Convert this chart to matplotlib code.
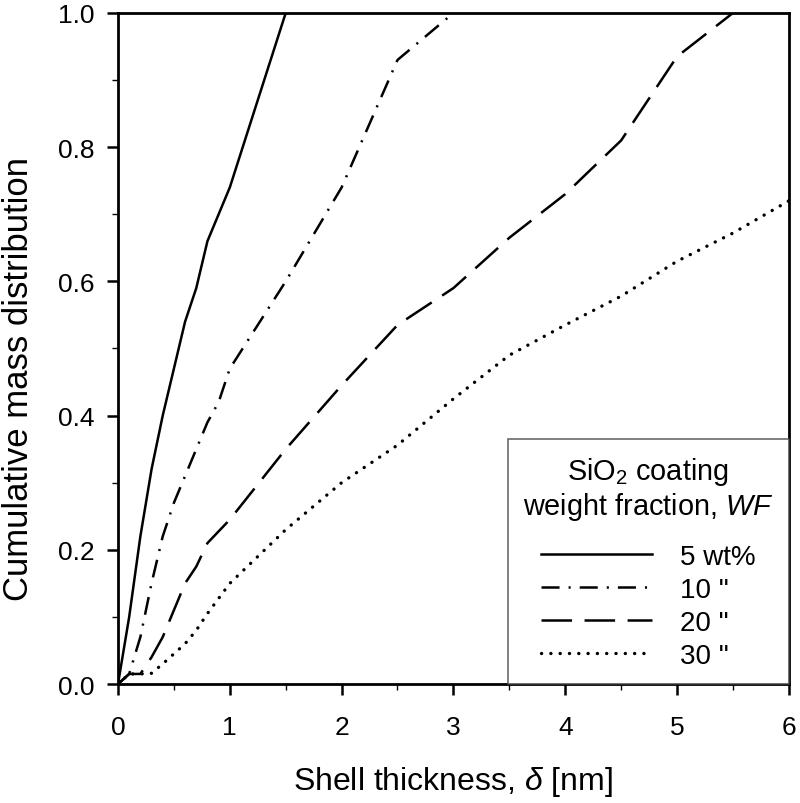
import matplotlib
matplotlib.use("Agg")
import matplotlib.pyplot as plt
from matplotlib.ticker import MultipleLocator, FormatStrFormatter

plt.rcParams['font.family'] = ['Liberation Sans', 'DejaVu Sans']
plt.rcParams['mathtext.fontset'] = 'custom'
plt.rcParams['mathtext.rm'] = 'Liberation Sans'
plt.rcParams['mathtext.it'] = 'Liberation Sans:italic'
plt.rcParams['lines.scale_dashes'] = False

# Data
x5 = [0, 0.1, 0.2, 0.3, 0.4, 0.5, 0.6, 0.7, 0.8, 0.9, 1.0, 1.5]
y5 = [0, 0.10, 0.22, 0.32, 0.40, 0.47, 0.54, 0.59, 0.66, 0.70, 0.74, 1.0]

x10 = [0, 0.1, 0.2, 0.3, 0.4, 0.5, 0.6, 0.7, 0.8, 0.9, 1.0, 1.5, 2.0, 2.5, 3.0]
y10 = [0, 0.015, 0.07, 0.15, 0.22, 0.27, 0.31, 0.35, 0.39, 0.42, 0.47, 0.60, 0.74, 0.93, 1.0]

x20 = [0, 0.1, 0.2, 0.3, 0.4, 0.5, 0.6, 0.7, 0.8, 1.0, 1.5, 2.0, 2.5, 3.0, 3.5, 4.0, 4.5, 5.0, 5.5]
y20 = [0, 0.015, 0.015, 0.04, 0.07, 0.11, 0.15, 0.175, 0.21, 0.245, 0.35, 0.445, 0.535, 0.59, 0.665, 0.73, 0.81, 0.935, 1.0]

x30 = [0, 0.1, 0.2, 0.3, 0.4, 0.5, 0.6, 0.7, 0.8, 1.0, 1.5, 2.0, 2.5, 3.0, 3.5, 4.0, 4.5, 5.0, 5.5, 6.0]
y30 = [0, 0.015, 0.015, 0.016, 0.03, 0.045, 0.06, 0.08, 0.105, 0.15, 0.23, 0.30, 0.356, 0.425, 0.49, 0.535, 0.578, 0.63, 0.672, 0.72]

labels = ['5 wt%', '10 "', '20 "', '30 "']

fig = plt.figure(figsize=(8.0, 8.04), dpi=100)
ax = fig.add_axes([0.1475, 0.148, 0.8385, 0.8346])

lw = 1.8
ax.plot(x5, y5, color='black', lw=lw, linestyle='-', label=labels[0])
ax.plot(x10, y10, color='black', lw=lw, linestyle=(0, (13, 6.5, 1.5, 6.5)), label=labels[1])
ax.plot(x20, y20, color='black', lw=lw, linestyle=(0, (22, 9)), label=labels[2])
l30, = ax.plot(x30, y30, color='black', lw=2.4, linestyle=(0, (0.1, 6.6)), label=labels[3])
l30.set_dash_capstyle('round')

ax.set_xlim(0, 6)
ax.set_ylim(0, 1.0)
ax.xaxis.set_major_locator(MultipleLocator(1))
ax.xaxis.set_minor_locator(MultipleLocator(0.5))
ax.yaxis.set_major_locator(MultipleLocator(0.2))
ax.yaxis.set_minor_locator(MultipleLocator(0.1))
ax.yaxis.set_major_formatter(FormatStrFormatter('%.1f'))
ax.xaxis.set_major_formatter(FormatStrFormatter('%d'))

ax.tick_params(which='major', direction='out', length=8, width=1.8, labelsize=19)
ax.tick_params(axis='x', which='major', pad=14)
ax.tick_params(axis='y', which='major', pad=9)
ax.tick_params(which='minor', direction='out', length=4, width=1.0)
ax.tick_params(top=False, right=False)
for s in ax.spines.values():
    s.set_linewidth(2.0)

ax.set_xlabel(r'Shell thickness, $\delta$ [nm]', fontsize=23, labelpad=18)
ax.set_ylabel('Cumulative mass distribution', fontsize=25)
ax.yaxis.set_label_coords(-0.123, 0.456)

leg = ax.legend(loc='lower right', fontsize=20,
                title='SiO$_2$ coating\nweight fraction, $\\it{WF}$',
                title_fontsize=20.8, frameon=True, fancybox=False,
                handlelength=4.0, borderaxespad=0, borderpad=0.55,
                labelspacing=0.25, handletextpad=1.0)
leg.get_frame().set_edgecolor('#444444')
leg.get_frame().set_linewidth(1.2)
leg.get_title().set_multialignment('center')
leg.get_title().set_linespacing(1.15)
leg._legend_box.sep = 15.5

fig.savefig('out.png', dpi=100)
